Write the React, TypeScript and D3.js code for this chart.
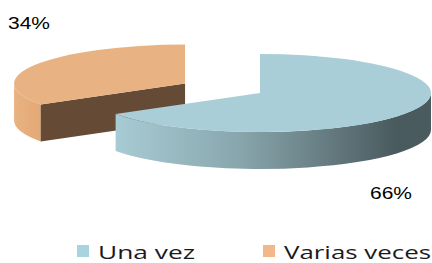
import React from "react";
import * as d3 from "d3";

// chart data
const categories = ["Una vez", "Varias veces"];
const values = [66, 34];
const pctLabels = ["66%", "34%"];

const W = 432;
const H = 263;

// pie geometry (tilted ellipse)
const cx = 260;
const cy = 93;
const rx = 171;
const ry = 39;
const depth = 37;
const explode = [0, 0.5];

const topColors = ["#a9ced7", "#e8b282"];
const legendColors = ["#a9d3de", "#f3b78a"];

const App: React.FC = () => {
	const pie = d3
		.pie<number>()
		.sort(null)
		.startAngle(0)
		.endAngle(2 * Math.PI)(values);

	const slices = pie.map((s, i) => {
		const mid = (s.startAngle + s.endAngle) / 2;
		const ox = cx + Math.sin(mid) * explode[i] * rx;
		const oy = cy - Math.cos(mid) * explode[i] * ry;
		const pt = (a: number, dz = 0): [number, number] => [
			ox + rx * Math.sin(a),
			oy - ry * Math.cos(a) + dz,
		];
		const large = s.endAngle - s.startAngle > Math.PI ? 1 : 0;
		const p0 = pt(s.startAngle);
		const p1 = pt(s.endAngle);
		const top = `M${ox},${oy}L${p0}A${rx},${ry} 0 ${large} 1 ${p1}Z`;

		// front (visible) outer wall
		const a0 = Math.max(s.startAngle, Math.PI / 2);
		const a1 = Math.min(s.endAngle, (3 * Math.PI) / 2);
		let side = "";
		if (a1 > a0) {
			const l2 = a1 - a0 > Math.PI ? 1 : 0;
			side = `M${pt(a0)}A${rx},${ry} 0 ${l2} 1 ${pt(a1)}L${pt(a1, depth)}A${rx},${ry} 0 ${l2} 0 ${pt(a0, depth)}Z`;
		}
		// cut face at the start angle, visible when it faces the viewer
		let cut = "";
		if (s.startAngle > Math.PI && s.startAngle < 2 * Math.PI) {
			const q = pt(s.startAngle);
			const qd = pt(s.startAngle, depth);
			cut = `M${ox},${oy}L${q}L${qd}L${ox},${oy + depth}Z`;
		}
		return { i, top, side, cut };
	});

	const sideFill = ["url(#blueSide)", "url(#orangeSide)"];
	const drawOrder = [1, 0];

	const labelPos: [number, number][] = [
		[370, 199],
		[8, 29],
	];
	const legendX = [77, 263];
	const legendTextW = [97, 147];

	return (
		<svg
			width={W}
			height={H}
			style={{ position: "fixed", left: 0, top: 0, background: "#fff" }}
		>
			<defs>
				<linearGradient id="blueSide" gradientUnits="userSpaceOnUse" x1={115} x2={395} y1={0} y2={0}>
					<stop offset="0" stopColor="#a8ccd4" />
					<stop offset="0.45" stopColor="#88a5ac" />
					<stop offset="1" stopColor="#4a5b5f" />
				</linearGradient>
				<linearGradient id="orangeSide" gradientUnits="userSpaceOnUse" x1={13} x2={45} y1={0} y2={0}>
					<stop offset="0" stopColor="#e9b382" />
					<stop offset="1" stopColor="#e2a774" />
				</linearGradient>
			</defs>

			{drawOrder.map((k) => {
				const s = slices[k];
				return (
					<g key={k}>
						{s.side && <path d={s.side} fill={sideFill[k]} />}
						{s.cut && <path d={s.cut} fill="#654b36" />}
						<path d={s.top} fill={topColors[k]} />
					</g>
				);
			})}

			{pctLabels.map((t, i) => (
				<text
					key={t}
					x={labelPos[i][0]}
					y={labelPos[i][1]}
					fontFamily="Liberation Sans, Arial, sans-serif"
					fontSize={16.5}
					textLength={42}
					lengthAdjust="spacingAndGlyphs"
					fill="#000"
				>
					{t}
				</text>
			))}

			{categories.map((c, i) => (
				<g key={c}>
					<rect x={legendX[i]} y={245} width={12} height={12} fill={legendColors[i]} />
					<text
						x={legendX[i] + 21}
						y={259}
						fontFamily="Open Sans, sans-serif"
						fontSize={18.5}
						textLength={legendTextW[i]}
						lengthAdjust="spacingAndGlyphs"
						fill="#1a1a1a"
					>
						{c}
					</text>
				</g>
			))}
		</svg>
	);
};

export default App;
